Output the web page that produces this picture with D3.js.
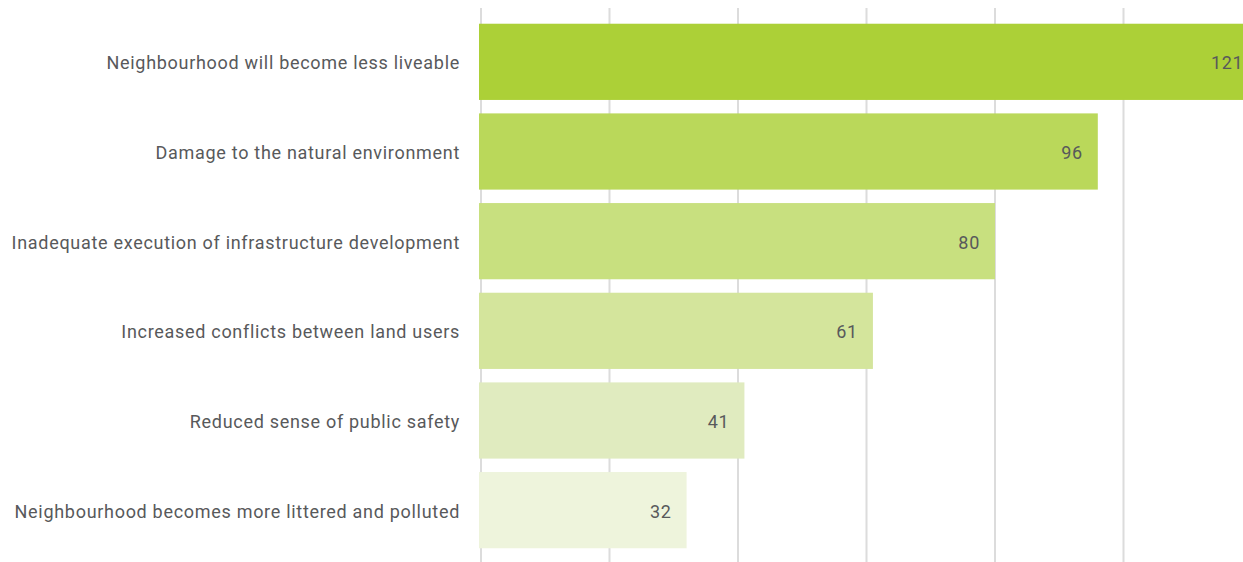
<!DOCTYPE html>
<html>
<head>
<meta charset="utf-8">
<script src="https://cdn.jsdelivr.net/npm/d3@7"></script>
<style>
  body { margin: 0; background: #fff; }
  svg text { font-family: Roboto, "Open Sans", sans-serif; fill: #58595b; letter-spacing: 0.7px; }
</style>
</head>
<body>
<svg id="chart"></svg>
<script>
const categories = [
  "Neighbourhood will become less liveable",
  "Damage to the natural environment",
  "Inadequate execution of infrastructure development",
  "Increased conflicts between land users",
  "Reduced sense of public safety",
  "Neighbourhood becomes more littered and polluted"
];
const values = [121, 96, 80, 61, 41, 32];
const barColors = ["#acd037", "#bad85a", "#c8e07f", "#d4e59c", "#e0ebbf", "#eef4dc"];
const tickValues = [0, 20, 40, 60, 80, 100, 120];

const width = 1243, height = 562;
const data = categories.map((c, i) => ({ key: c, value: values[i], color: barColors[i] }));

const svg = d3.select('#chart')
    .attr('width', width)
    .attr('height', height);

const xScale = d3.scaleLinear()
    .domain([0, 120])
    .range([481, 1252]);

const yScale = d3.scaleBand()
    .domain(categories)
    .range([17, 555])
    .paddingInner(0.15)
    .paddingOuter(0.075);

// vertical gridlines, behind the bars
svg.append('g')
    .selectAll('line')
    .data(tickValues)
    .join('line')
    .attr('x1', d => xScale(d))
    .attr('x2', d => xScale(d))
    .attr('y1', 8)
    .attr('y2', height)
    .style('stroke', '#dcdcdc')
    .style('stroke-width', 2);

svg.append('g')
    .selectAll('rect')
    .data(data)
    .join('rect')
    .attr('x', xScale(0) - 2)
    .attr('y', d => yScale(d.key))
    .attr('width', d => xScale(d.value) - xScale(0) + 2)
    .attr('height', yScale.bandwidth())
    .style('fill', d => d.color);

// value labels inside the bar end
svg.append('g')
    .selectAll('text')
    .data(data)
    .join('text')
    .attr('x', d => xScale(d.value) - 15)
    .attr('y', d => yScale(d.key) + yScale.bandwidth() / 2)
    .attr('dy', '0.42em')
    .style('text-anchor', 'end')
    .style('font-size', '18px')
    .text(d => d.value);

// category labels
svg.append('g')
    .selectAll('text')
    .data(data)
    .join('text')
    .attr('x', 460)
    .attr('y', d => yScale(d.key) + yScale.bandwidth() / 2)
    .attr('dy', '0.42em')
    .style('text-anchor', 'end')
    .style('font-size', '18px')
    .text(d => d.key);
</script>
</body>
</html>
